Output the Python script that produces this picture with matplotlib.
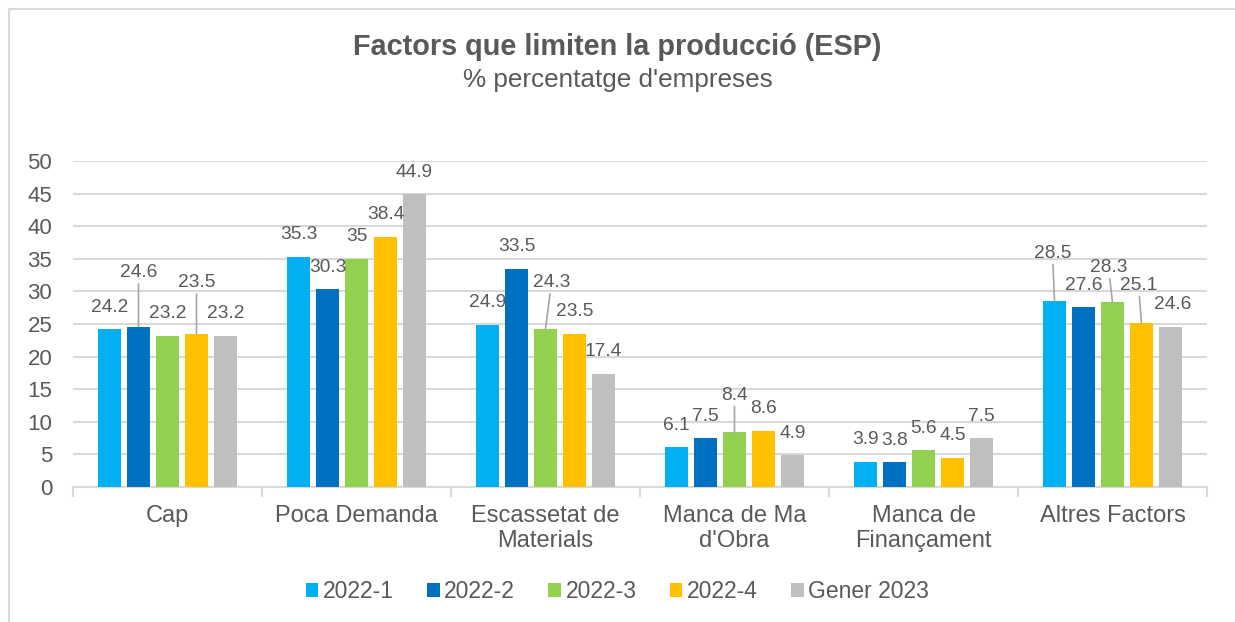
import matplotlib.pyplot as plt
import numpy as np
from matplotlib.lines import Line2D

categories = ["Cap", "Poca Demanda", "Escassetat de\nMaterials", "Manca de Ma\nd'Obra",
              "Manca de\nFinançament", "Altres Factors"]
series_names = ["2022-1", "2022-2", "2022-3", "2022-4", "Gener 2023"]
values_2022_1 = [24.2, 35.3, 24.9, 6.1, 3.9, 28.5]
values_2022_2 = [24.6, 30.3, 33.5, 7.5, 3.8, 27.6]
values_2022_3 = [23.2, 35.0, 24.3, 8.4, 5.6, 28.3]
values_2022_4 = [23.5, 38.4, 23.5, 8.6, 4.5, 25.1]
values_gener_2023 = [23.2, 44.9, 17.4, 4.9, 7.5, 24.6]
y_ticks = [0, 5, 10, 15, 20, 25, 30, 35, 40, 45, 50]

all_series = [values_2022_1, values_2022_2, values_2022_3, values_2022_4, values_gener_2023]
colors = ["#00B0F0", "#0070C0", "#92D050", "#FFC000", "#BFBFBF"]
text_color = "#595959"
grid_color = "#D9D9D9"

# label nudges in pixels (series, category) -> (dx, dy); dy measured to text centre
default_offset = (0, 22)
label_offsets = {
    (1, 0): (0, 54),
    (3, 0): (0, 51),
    (2, 2): (6, 46),
    (2, 3): (0, 37),
    (0, 5): (-2, 48),
    (2, 5): (-4, 35),
    (3, 5): (-3, 38),
    (4, 5): (2, 22),
}

plt.rcParams["font.family"] = ["Liberation Sans", "DejaVu Sans"]

fig = plt.figure(figsize=(12.35, 6.22), dpi=100)
ax = fig.add_axes([73 / 1235, 135 / 622, 1134 / 1235, 326 / 622])

x = np.arange(len(categories))
bar_width = 0.122
step = 0.1534

for s_idx, (name, vals, color) in enumerate(zip(series_names, all_series, colors)):
    xpos = x + (s_idx - 2) * step
    ax.bar(xpos, vals, width=bar_width, color=color, label=name, zorder=3)
    for c_idx, (xp, v) in enumerate(zip(xpos, vals)):
        dx, dy = label_offsets.get((s_idx, c_idx), default_offset)
        arrow = None
        if dy > 30:
            arrow = dict(arrowstyle="-", color="#A6A6A6", lw=1.2, shrinkA=0, shrinkB=0)
        ax.annotate(f"{v:g}", xy=(xp, v), xytext=(dx, dy), textcoords="offset pixels",
                    ha="center", va="center", fontsize=13.8, color=text_color,
                    arrowprops=arrow, zorder=4)

ax.set_xlim(-0.5, len(categories) - 0.5)
ax.set_ylim(0, 50)
ax.set_yticks(y_ticks)
ax.tick_params(axis="y", length=0, pad=15, labelsize=16, labelcolor=text_color)
ax.yaxis.grid(True, color=grid_color, lw=1.5, zorder=0)

ax.set_xticks(x)
ax.set_xticklabels(categories, fontsize=17, color=text_color, linespacing=1.2)
ax.set_xticks(np.arange(len(categories) + 1) - 0.5, minor=True)
ax.tick_params(axis="x", which="major", length=0, pad=13)
ax.tick_params(axis="x", which="minor", length=7, width=1.5, color=grid_color)

for side in ["top", "right", "left"]:
    ax.spines[side].set_visible(False)
ax.spines["bottom"].set_color(grid_color)
ax.spines["bottom"].set_linewidth(1.5)

fig.text(0.5, (622 - 47) / 622, "Factors que limiten la producció (ESP)", ha="center", va="center",
         fontsize=20.8, fontweight="bold", color=text_color)
fig.text(0.5, (622 - 80) / 622, "% percentatge d'empreses", ha="center", va="center",
         fontsize=18.8, color=text_color)

fig.legend(loc="center", bbox_to_anchor=(0.5, 30 / 622), ncol=5, frameon=False,
           fontsize=16.5, labelcolor=text_color, handlelength=0.55, handleheight=0.55,
           handletextpad=0.2, columnspacing=1.45)

# chart border (only top and left edges visible in the crop)
fig.add_artist(Line2D([9 / 1235, 1], [1 - 9 / 622, 1 - 9 / 622], color=grid_color, lw=1.5))
fig.add_artist(Line2D([9 / 1235, 9 / 1235], [0, 1 - 9 / 622], color=grid_color, lw=1.5))

fig.savefig("out.png", dpi=100)
